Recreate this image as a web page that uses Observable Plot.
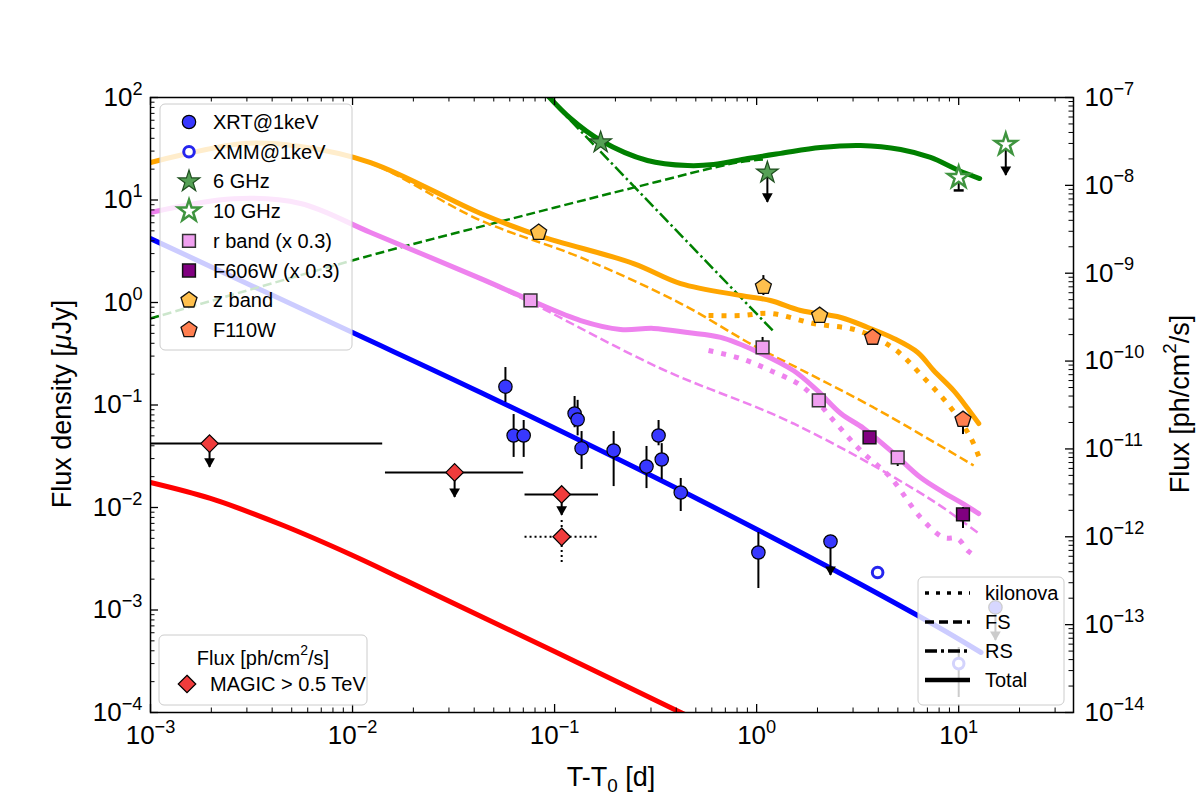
<!DOCTYPE html>
<html><head><meta charset="utf-8">
<script src="https://cdn.jsdelivr.net/npm/d3@7"></script>
<script src="https://cdn.jsdelivr.net/npm/@observablehq/plot@0.6"></script>
<style>body{margin:0;background:#fff;} #chart{width:1200px;height:800px;}</style>
</head><body><div id="chart"></div>
<script>
// ---------------- data ----------------
// X-ray (XRT @ 1 keV), flux density in microJy
const xrtTime = [0.0571, 0.0627, 0.0703, 0.1256, 0.130, 0.136, 0.196, 0.285, 0.327, 0.339, 0.421, 1.02];
const xrtFlux = [0.151, 0.0504, 0.0504, 0.0826, 0.0722, 0.0377, 0.036, 0.0251, 0.0504, 0.0294, 0.014, 0.00364];
const xrtLow  = [0.106, 0.0308, 0.0308, 0.060, 0.050, 0.0235, 0.016, 0.0153, 0.040, 0.0187, 0.00914, 0.00162];
const xrtHigh = [0.232, 0.0807, 0.0706, 0.121, 0.111, 0.0551, 0.0551, 0.0394, 0.0706, 0.042, 0.0192, 0.0057];
const xrtUlTime = [2.32, 15.2];
const xrtUlFlux = [0.00466, 0.00106];
const xrtUlEnd  = [0.00217, 0.000503];
// XMM
const xmmTime = [3.97, 10.0];
const xmmFlux = [0.00232, 0.0003];
const xmmLow  = [0.00232, 0.00014];
const xmmHigh = [0.00232, 0.00043];
// Radio
const r6Time = [0.169, 1.13];
const r6Flux = [36.4, 18.5];
const r6UlTime = [1.13];
const r6UlFlux = [18.5];
const r6UlEnd  = [9.46];
const r10Time = [10.0, 17.1];
const r10Flux = [16.6, 34.8];
const r10ErrTime = [10.0];
const r10ErrLow  = [12.4];
const r10ErrHigh = [20.7];
const r10UlTime = [17.1];
const r10UlFlux = [34.8];
const r10UlEnd  = [17.3];
// Optical / NIR
const rTime = [0.076, 1.07, 2.03, 4.99];
const rFlux = [1.05, 0.364, 0.111, 0.0308];
const rLow  = [1.05, 0.364, 0.111, 0.0251];
const rHigh = [1.05, 0.456, 0.111, 0.0308];
const f606Time = [3.62, 10.5];
const f606Flux = [0.0482, 0.00855];
const f606Low  = [0.0482, 0.00624];
const f606High = [0.0482, 0.0100];
const zTime = [0.0834, 1.08, 2.05];
const zFlux = [4.82, 1.43, 0.746];
const zLow  = [4.82, 1.17, 0.746];
const zHigh = [4.82, 1.83, 0.746];
const f110Time = [3.75, 10.5];
const f110Flux = [0.456, 0.0722];
const f110Low  = [0.456, 0.0515];
const f110High = [0.456, 0.0722];
// MAGIC > 0.5 TeV, in ph/cm2/s (right axis)
const magicTime = [0.00196, 0.032, 0.1084];
const magicTmin = [0.0008, 0.01455, 0.0714];
const magicTmax = [0.0141, 0.0703, 0.165];
const magicFlux = [1.15e-11, 5.4e-12, 3.03e-12];
const magicUlEnd = [6.15e-12, 2.8e-12, 1.75e-12];
const magicDotTime = [0.1084];
const magicDotTmin = [0.0714];
const magicDotTmax = [0.165];
const magicDotFlux = [1.0e-12];
const magicDotLow  = [5.1e-13];
const magicDotHigh = [1.53e-12];

// Models
const blueT = [0.001, 0.01, 0.0431, 0.528, 6.27, 12.9];
const blueF = [4.2, 0.509, 0.1324, 0.0117, 0.000883, 0.000385];
const redT = [0.001, 0.00198, 0.00455, 0.00978, 0.01786, 0.1, 0.421, 0.6];
const redF = [0.01754, 0.01225, 0.00667, 0.00348, 0.00199, 0.000393, 0.0001, 0.0000715];
const gTotT = [0.085, 0.12, 0.169, 0.288, 0.455, 0.612, 0.902, 1.315, 2.07, 3.27, 5.16, 7.26, 10, 12.7];
const gTotF = [125, 62.4, 38.1, 24.3, 21.7, 22.2, 25.4, 28.5, 32.5, 34.0, 31.1, 26.0, 19.4, 16.2];
const gFsT = [0.001, 0.01228, 0.0431, 0.246, 0.805, 1.1];
const gFsF = [0.698, 2.88, 5.5, 13.2, 23.2, 24.9];
const gRsT = [0.0853, 1.214];
const gRsF = [119.7, 0.521];
const oTotT = [0.001, 0.00288, 0.00553, 0.01228, 0.0431, 0.0834, 0.246, 0.421, 0.834, 1.17, 1.65, 2.61, 3.55, 4.77, 6.27, 7.52, 9.44, 11.08, 12.57];
const oTotF = [23.2, 35.6, 33.3, 23.2, 7.38, 4.5, 2.4, 1.53, 1.17, 1.046, 0.836, 0.714, 0.570, 0.446, 0.325, 0.217, 0.138, 0.0925, 0.066];
const oFsT = [0.001, 0.00288, 0.00553, 0.01228, 0.0431, 0.1346, 0.421, 0.966, 1.65, 3.79, 11.86];
const oFsF = [23.2, 35.6, 33.3, 22.8, 6.31, 2.75, 0.977, 0.38, 0.222, 0.0946, 0.0257];
const oKnT = [0.578, 0.834, 1.17, 1.91, 3.16, 4.77, 6.71, 9.12, 11.45, 12.9];
const oKnF = [0.746, 0.746, 0.782, 0.624, 0.533, 0.356, 0.185, 0.0946, 0.0482, 0.0275];
const pTotT = [0.001, 0.00258, 0.00553, 0.01228, 0.0431, 0.076, 0.1346, 0.212, 0.309, 0.455, 0.664, 1.01, 1.52, 2.0, 2.61, 3.39, 4.77, 6.48, 8.43, 10.24, 12.57];
const pTotF = [7.55, 10.3, 9.25, 4.82, 1.71, 1.05, 0.667, 0.546, 0.559, 0.509, 0.456, 0.33, 0.217, 0.138, 0.0826, 0.059, 0.0337, 0.0196, 0.014, 0.0112, 0.00873];
const pFsT = [0.001, 0.00258, 0.00553, 0.01228, 0.0431, 0.076, 0.335, 1.52, 7.03, 12.4];
const pFsF = [7.55, 10.3, 9.25, 4.82, 1.68, 1.0, 0.227, 0.066, 0.0125, 0.0057];
const pKnT = [0.578, 0.834, 1.17, 1.71, 2.4, 3.27, 4.6, 6.48, 8.43, 9.88, 11.08, 12.4];
const pKnF = [0.340, 0.284, 0.217, 0.148, 0.0706, 0.036, 0.0196, 0.00798, 0.00509, 0.00497, 0.0038, 0.00325];

// Axes
const xTicks = [1e-3, 1e-2, 1e-1, 1, 10];
const xTickLabels = ["10^-3", "10^-2", "10^-1", "10^0", "10^1"];
const yTicks = [1e-4, 1e-3, 1e-2, 1e-1, 1, 10, 100];
const yTickLabels = ["10^-4", "10^-3", "10^-2", "10^-1", "10^0", "10^1", "10^2"];
const rTicks = [1e-14, 1e-13, 1e-12, 1e-11, 1e-10, 1e-9, 1e-8, 1e-7];
const rTickLabels = ["10^-14", "10^-13", "10^-12", "10^-11", "10^-10", "10^-9", "10^-8", "10^-7"];

const legendLabels = ["XRT@1keV", "XMM@1keV", "6 GHz", "10 GHz", "r band (x 0.3)", "F606W (x 0.3)", "z band", "F110W"];
const lineLegendLabels = ["kilonova", "FS", "RS", "Total"];

// ---------------- helpers ----------------
const FONT = "'Liberation Sans', Arial, Helvetica, sans-serif";
const toLeft = r => Math.pow(10, 2 + (Math.log10(r) + 7) * 6 / 7); // right axis -> left axis units
const nearestIdx = (arr, v) => { let b = 0; arr.forEach((a, i) => { if (Math.abs(Math.log10(a) - Math.log10(v)) < Math.abs(Math.log10(arr[b]) - Math.log10(v))) b = i; }); return b; };
const zip = (t, f) => t.map((d, i) => ({t: d, f: f[i]}));
const minorTicks = (lo, hi, max) => { const o = []; for (let e = lo; e < hi; e++) for (let m = 2; m <= 9; m++) { const v = m * Math.pow(10, e); if (v <= max) o.push(v); } return o; };

const pentagon = {draw(ctx, size) { const R = Math.sqrt(size / Math.PI) * 1.15; for (let i = 0; i < 5; i++) { const a = -Math.PI / 2 + i * 2 * Math.PI / 5; const x = R * Math.cos(a), y = R * Math.sin(a); if (i) ctx.lineTo(x, y); else ctx.moveTo(x, y); } ctx.closePath(); }};
const hcap = {draw(ctx, size) { const r = Math.sqrt(size / Math.PI); ctx.moveTo(-r, 0); ctx.lineTo(r, 0); }};

const W = 1200, H = 800, ML = 150, MR = 127, MT = 97, MB = 88;
const PW = W - ML - MR, PH = H - MT - MB;
const TICKFS = 26, LABELFS = 27, LEGFS = 20;

const C = {
  blue: "#0000ff", red: "#ff0000", green: "#008000", orange: "#ffa500", violet: "#ee82ee",
  xrt: "#3838ff", xmm: "#2525ee", r6: "#55a055", r6e: "#1f4f1f", r10: "#3f943f",
  rb: "#f0a0f0", f606: "#800080", zb: "#ffc04d", f110: "#ff7f50", magic: "#f03c3c"
};

function errX(t, lo, hi) { return Plot.ruleX(t.map((d, i) => ({t: d, lo: lo[i], hi: hi[i]})), {x: "t", y1: "lo", y2: "hi", stroke: "black", strokeWidth: 2}); }
function ulMarks(t, f, end) {
  const d = t.map((v, i) => ({t: v, f: f[i], e: end[i]}));
  return [
    Plot.ruleX(d, {x: "t", y1: "f", y2: "e", stroke: "black", strokeWidth: 2}),
    Plot.dot(d, {x: "t", y: "e", symbol: "triangle", rotate: 180, r: 4, fill: "black", stroke: "none", dy: -6})
  ];
}
const solid = (t, f, color, extra = {}) => Plot.line(zip(t, f), {x: "t", y: "f", stroke: color, strokeWidth: 5, curve: "catmull-rom", clip: true, ...extra});
const styled = (t, f, color, w, dash, curve = "catmull-rom") => Plot.line(zip(t, f), {x: "t", y: "f", stroke: color, strokeWidth: w, strokeDasharray: dash, strokeLinecap: "butt", strokeLinejoin: "miter", curve, clip: true});

const xMinor = minorTicks(-3, 2, 37);
const yMinor = minorTicks(-4, 2, 100);
const rMinor = minorTicks(-14, -7, 1e-7).map(toLeft);
const rTicksLeft = rTicks.map(toLeft);
const rLabelData = rTicks.map((v, i) => ({y: toLeft(v), label: rTickLabels[i]}));

const magic = magicTime.map((t, i) => ({t, lo: magicTmin[i], hi: magicTmax[i], f: toLeft(magicFlux[i]), e: toLeft(magicUlEnd[i])}));
const magicDot = magicDotTime.map((t, i) => ({t, lo: magicDotTmin[i], hi: magicDotTmax[i], f: toLeft(magicDotFlux[i]), flo: toLeft(magicDotLow[i]), fhi: toLeft(magicDotHigh[i])}));

const chart = Plot.plot({
  width: W, height: H, marginLeft: ML, marginRight: MR, marginTop: MT, marginBottom: MB,
  style: {fontFamily: FONT, background: "white", color: "black"},
  x: {type: "log", domain: [1e-3, 37]},
  y: {type: "log", domain: [1e-4, 100]},
  marks: [
    // models
    solid(redT, redF, C.red),
    solid(blueT, blueF, C.blue),
    styled(gFsT, gFsF, C.green, 2.5, "9,4"),
    styled(gRsT, gRsF, C.green, 2.5, "12,3.5,2.5,3.5", "linear"),
    solid(gTotT, gTotF, C.green),
    styled(oFsT, oFsF, C.orange, 2.5, "9,4"),
    styled(pFsT, pFsF, C.violet, 2.5, "9,4"),
    solid(oTotT, oTotF, C.orange),
    solid(pTotT, pTotF, C.violet),
    styled(oKnT, oKnF, C.orange, 5, "5,8"),
    styled(pKnT, pKnF, C.violet, 5, "5,8"),

    // MAGIC
    Plot.ruleY(magic, {y: "f", x1: "lo", x2: "hi", stroke: "black", strokeWidth: 2, clip: true}),
    Plot.ruleX(magic, {x: "t", y1: "f", y2: "e", stroke: "black", strokeWidth: 2}),
    Plot.dot(magic, {x: "t", y: "e", symbol: "triangle", rotate: 180, r: 4, fill: "black", stroke: "none", dy: -6}),
    Plot.ruleY(magicDot, {y: "f", x1: "lo", x2: "hi", stroke: "black", strokeWidth: 2, strokeDasharray: "2,3"}),
    Plot.ruleX(magicDot, {x: "t", y1: "flo", y2: "fhi", stroke: "black", strokeWidth: 2, strokeDasharray: "2,3"}),
    Plot.dot(magic, {x: "t", y: "f", symbol: "diamond2", r: 7.9, fill: C.magic, stroke: "black", strokeWidth: 1.2}),
    Plot.dot(magicDot, {x: "t", y: "f", symbol: "diamond2", r: 7.9, fill: C.magic, stroke: "black", strokeWidth: 1.2}),

    // X-ray
    errX(xrtTime, xrtLow, xrtHigh),
    ...ulMarks(xrtUlTime, xrtUlFlux, xrtUlEnd),
    Plot.dot(zip(xrtTime, xrtFlux), {x: "t", y: "f", r: 6.7, fill: C.xrt, stroke: "black", strokeWidth: 1.2}),
    Plot.dot(zip(xrtUlTime, xrtUlFlux), {x: "t", y: "f", r: 6.7, fill: C.xrt, stroke: "black", strokeWidth: 1.2}),
    errX(xmmTime, xmmLow, xmmHigh),
    Plot.dot(zip(xmmTime, xmmFlux), {x: "t", y: "f", r: 5.3, fill: "white", stroke: C.xmm, strokeWidth: 3}),

    // radio
    ...ulMarks(r6UlTime, r6UlFlux, r6UlEnd),
    Plot.dot(zip(r6Time, r6Flux), {x: "t", y: "f", symbol: "star", r: 6.8, fill: C.r6, stroke: C.r6e, strokeWidth: 1.2}),
    errX(r10ErrTime, r10ErrLow, r10ErrHigh),
    Plot.dot(r10ErrTime.map((t, i) => ({t, f: r10ErrLow[i]})), {x: "t", y: "f", symbol: hcap, r: 5, stroke: "black", strokeWidth: 2.5}),
    ...ulMarks(r10UlTime, r10UlFlux, r10UlEnd),
    Plot.dot(zip(r10Time, r10Flux), {x: "t", y: "f", symbol: "star", r: 6.8, fill: "white", stroke: C.r10, strokeWidth: 2.5}),

    // optical / NIR
    errX(rTime, rLow, rHigh),
    errX(f606Time, f606Low, f606High),
    errX(zTime, zLow, zHigh),
    errX(f110Time, f110Low, f110High),
    Plot.dot(zip(rTime, rFlux), {x: "t", y: "f", symbol: "square", r: 7.2, fill: C.rb, stroke: "#333", strokeWidth: 1.5}),
    Plot.dot(zip(f606Time, f606Flux), {x: "t", y: "f", symbol: "square", r: 7.2, fill: C.f606, stroke: "#111", strokeWidth: 1.5}),
    Plot.dot(zip(zTime, zFlux), {x: "t", y: "f", symbol: pentagon, r: 7.3, fill: C.zb, stroke: "#111", strokeWidth: 1.3}),
    Plot.dot(zip(f110Time, f110Flux), {x: "t", y: "f", symbol: pentagon, r: 7.3, fill: C.f110, stroke: "#111", strokeWidth: 1.3}),

    // inward ticks
    Plot.ruleX(xTicks, {x: d => d, insetTop: PH - 8, stroke: "black", strokeWidth: 1.3}),
    Plot.ruleX(xTicks, {x: d => d, insetBottom: PH - 8, stroke: "black", strokeWidth: 1.3}),
    Plot.ruleX(xMinor, {x: d => d, insetTop: PH - 4.5, stroke: "black", strokeWidth: 1}),
    Plot.ruleX(xMinor, {x: d => d, insetBottom: PH - 4.5, stroke: "black", strokeWidth: 1}),
    Plot.ruleY(yTicks, {y: d => d, insetRight: PW - 8, stroke: "black", strokeWidth: 1.3}),
    Plot.ruleY(yMinor, {y: d => d, insetRight: PW - 4.5, stroke: "black", strokeWidth: 1}),
    Plot.ruleY(rTicksLeft, {y: d => d, insetLeft: PW - 8, stroke: "black", strokeWidth: 1.3}),
    Plot.ruleY(rMinor, {y: d => d, insetLeft: PW - 4.5, stroke: "black", strokeWidth: 1}),
    Plot.frame({stroke: "black", strokeWidth: 1.5}),

    // tick labels
    Plot.axisX({ticks: xTicks, tickSize: 0, tickPadding: 13, tickFormat: d => xTickLabels[nearestIdx(xTicks, d)], fontSize: TICKFS, label: null}),
    Plot.axisY({anchor: "left", ticks: yTicks, tickSize: 0, tickPadding: 8, tickFormat: d => yTickLabels[nearestIdx(yTicks, d)], fontSize: TICKFS, label: null}),
    Plot.text(rLabelData, {y: "y", text: "label", frameAnchor: "right", dx: 11, textAnchor: "start", lineAnchor: "middle", fontSize: TICKFS, fill: "black"})
  ]
});

document.getElementById("chart").appendChild(chart);

// ---------------- post-processing: superscripts ----------------
const NS = "http://www.w3.org/2000/svg";
chart.querySelectorAll('text').forEach(t => {
  const m = t.textContent.match(/^10\^(.+)$/);
  if (!m) return;
  t.textContent = "";
  const a = document.createElementNS(NS, "tspan"); a.textContent = "10"; t.appendChild(a);
  const b = document.createElementNS(NS, "tspan"); b.setAttribute("dy", "-0.62em"); b.setAttribute("font-size", "70%");
  b.textContent = m[1].replace("-", "\u2212"); t.appendChild(b);
});

const svg = d3.select(chart);
const L = svg.append("g").attr("font-family", FONT).attr("fill", "black").attr("text-anchor", "start");

function sym(g, type, r, x, y, attrs) {
  const p = g.append("path").attr("d", d3.symbol(type, Math.PI * r * r)()).attr("transform", `translate(${x},${y})`);
  for (const k in attrs) p.attr(k, attrs[k]);
  return p;
}

// Axis titles
const yl = L.append("text").attr("transform", "translate(62,404) rotate(-90)").attr("text-anchor", "middle").attr("dominant-baseline", "central").attr("font-size", LABELFS);
yl.append("tspan").text("Flux density [");
yl.append("tspan").attr("font-style", "italic").text("\u03bc");
yl.append("tspan").text("Jy]");
const xl = L.append("text").attr("x", 611).attr("y", 786).attr("text-anchor", "middle").attr("font-size", LABELFS);
xl.append("tspan").text("T-T");
xl.append("tspan").attr("font-size", "70%").attr("dy", "0.3em").text("0");
xl.append("tspan").attr("dy", "-0.21em").text(" [d]");
const rl = L.append("text").attr("transform", "translate(1180,404) rotate(-90)").attr("text-anchor", "middle").attr("dominant-baseline", "central").attr("font-size", LABELFS);
rl.append("tspan").text("Flux [ph/cm");
rl.append("tspan").attr("font-size", "70%").attr("dy", "-0.6em").text("2");
rl.append("tspan").attr("dy", "0.42em").text("/s]");

// Legend 1 (data)
L.append("rect").attr("x", 160).attr("y", 104).attr("width", 192).attr("height", 246).attr("rx", 5)
  .attr("fill", "white").attr("fill-opacity", 0.8).attr("stroke", "#cccccc").attr("stroke-width", 1);
const legSyms = [
  [d3.symbolCircle, 6.7, {fill: C.xrt, stroke: "black", "stroke-width": 1.2}],
  [d3.symbolCircle, 5.3, {fill: "white", stroke: C.xmm, "stroke-width": 3}],
  [d3.symbolStar, 6.8, {fill: C.r6, stroke: C.r6e, "stroke-width": 1.2}],
  [d3.symbolStar, 6.8, {fill: "white", stroke: C.r10, "stroke-width": 2.5}],
  [d3.symbolSquare, 7.2, {fill: C.rb, stroke: "#333", "stroke-width": 1.5}],
  [d3.symbolSquare, 7.2, {fill: C.f606, stroke: "#111", "stroke-width": 1.5}],
  [pentagon, 7.3, {fill: C.zb, stroke: "#111", "stroke-width": 1.3}],
  [pentagon, 7.3, {fill: C.f110, stroke: "#111", "stroke-width": 1.3}]
];
legendLabels.forEach((lab, i) => {
  const y = 122 + i * 29.7;
  const [type, r, attrs] = legSyms[i];
  sym(L, type, r, 189, y, attrs);
  L.append("text").attr("x", 213).attr("y", y).attr("text-anchor", "start").attr("dominant-baseline", "central").attr("font-size", LEGFS).text(lab);
});

// Legend 2 (MAGIC)
L.append("rect").attr("x", 159).attr("y", 635).attr("width", 208).attr("height", 70).attr("rx", 5)
  .attr("fill", "white").attr("fill-opacity", 0.8).attr("stroke", "#cccccc");
const lt = L.append("text").attr("x", 263).attr("y", 658).attr("text-anchor", "middle").attr("dominant-baseline", "central").attr("font-size", LEGFS);
lt.append("tspan").text("Flux [ph/cm");
lt.append("tspan").attr("font-size", "70%").attr("dy", "-0.6em").text("2");
lt.append("tspan").attr("dy", "0.42em").text("/s]");
sym(L, d3.symbolDiamond2, 7.9, 187, 684, {fill: C.magic, stroke: "black", "stroke-width": 1.2});
L.append("text").attr("x", 210).attr("y", 684).attr("text-anchor", "start").attr("dominant-baseline", "central").attr("font-size", LEGFS).text("MAGIC > 0.5 TeV");

// Legend 3 (line styles)
L.append("rect").attr("x", 918).attr("y", 577).attr("width", 146).attr("height", 128).attr("rx", 5)
  .attr("fill", "white").attr("fill-opacity", 0.8).attr("stroke", "#cccccc");
const dashes = [["4,7", 3.5], ["9,5", 3.5], ["12,4,3,4", 3.5], [null, 4.5]];
lineLegendLabels.forEach((lab, i) => {
  const y = 593 + i * 29;
  const ln = L.append("line").attr("x1", 925).attr("x2", 970).attr("y1", y).attr("y2", y).attr("stroke", "black").attr("stroke-width", dashes[i][1]);
  if (dashes[i][0]) ln.attr("stroke-dasharray", dashes[i][0]);
  L.append("text").attr("x", 985).attr("y", y).attr("text-anchor", "start").attr("dominant-baseline", "central").attr("font-size", LEGFS).text(lab);
});
</script></body></html>
